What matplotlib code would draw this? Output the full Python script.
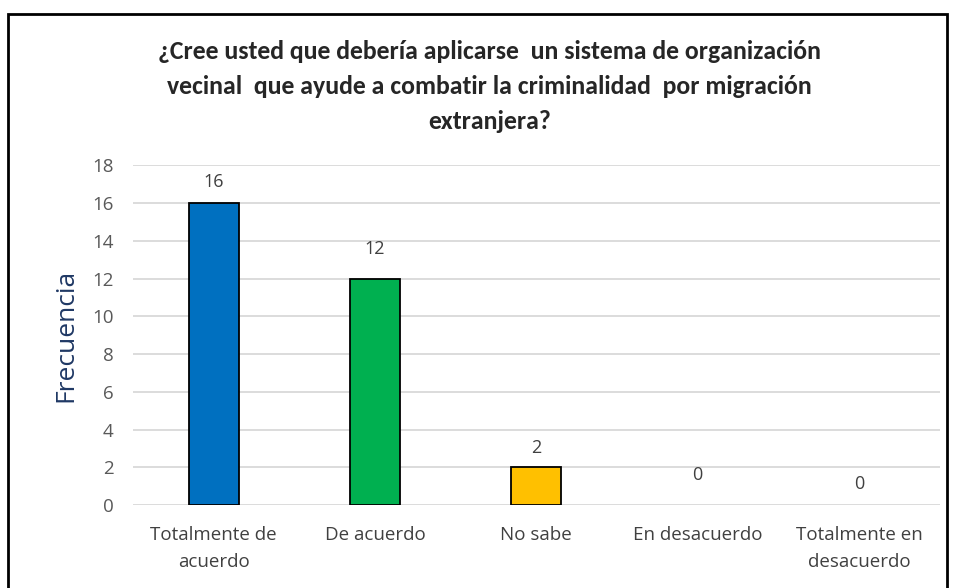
import matplotlib
matplotlib.use("Agg")
import matplotlib.pyplot as plt
from matplotlib.patches import Rectangle

plt.rcParams['font.family'] = ['Open Sans', 'DejaVu Sans']

# Data
categorias = ["Totalmente de\nacuerdo", "De acuerdo", "No sabe",
              "En desacuerdo", "Totalmente en\ndesacuerdo"]
frecuencia = [16, 12, 2, 0, 0]
colores = ["#0070C0", "#00B050", "#FFC000", "#A5A5A5", "#5B9BD5"]
yticks = [0, 2, 4, 6, 8, 10, 12, 14, 16, 18]

titulo = ("¿Cree usted que debería aplicarse  un sistema de organización\n"
          "vecinal  que ayude a combatir la criminalidad  por migración\n"
          "extranjera?")

fig = plt.figure(figsize=(9.56, 5.88), dpi=100)
ax = fig.add_axes([0.139, 0.141, 0.844, 0.578])

x = list(range(len(categorias)))
bars = ax.bar(x, frecuencia, width=0.31, color=colores,
              edgecolor="black", linewidth=[1.3 if v > 0 else 0 for v in frecuencia],
              zorder=3)

# data labels (the two zero labels sit a bit differently in the original)
offs = [15, 21, 14, 22, 15]
for i, v in enumerate(frecuencia):
    ax.annotate(str(v), (i, v), xytext=(0, offs[i]), textcoords="offset points",
                ha="center", va="center", fontsize=13, color="#404040")

ax.set_ylim(0, 18)
ax.set_xlim(-0.5, len(categorias) - 0.5)
ax.set_yticks(yticks)
ax.set_xticks(x)
ax.set_xticklabels(categorias, fontsize=13.5, color="#404040", linespacing=1.65)
ax.tick_params(axis="y", labelsize=13.5, labelcolor="#595959", length=0, pad=14)
ax.tick_params(axis="x", length=0, pad=15)
ax.grid(axis="y", color="#D9D9D9", linewidth=1.3, zorder=0)
for s in ax.spines.values():
    s.set_visible(False)

ax.set_ylabel("Frecuencia", fontsize=19, color="#1F3864", labelpad=10)

fig.text(0.512, 0.932, titulo, ha="center", va="top", fontsize=18.5,
         fontweight="bold", color="#262626", linespacing=1.64,
         family=['Carlito', 'Lato', 'DejaVu Sans'])

# outer frame of the chart
fig.patches.append(Rectangle((8 / 956, -0.05), 939 / 956, 1.05 - 14 / 588,
                             transform=fig.transFigure, fill=False,
                             edgecolor="black", linewidth=2))

fig.savefig("out.png", dpi=100)
